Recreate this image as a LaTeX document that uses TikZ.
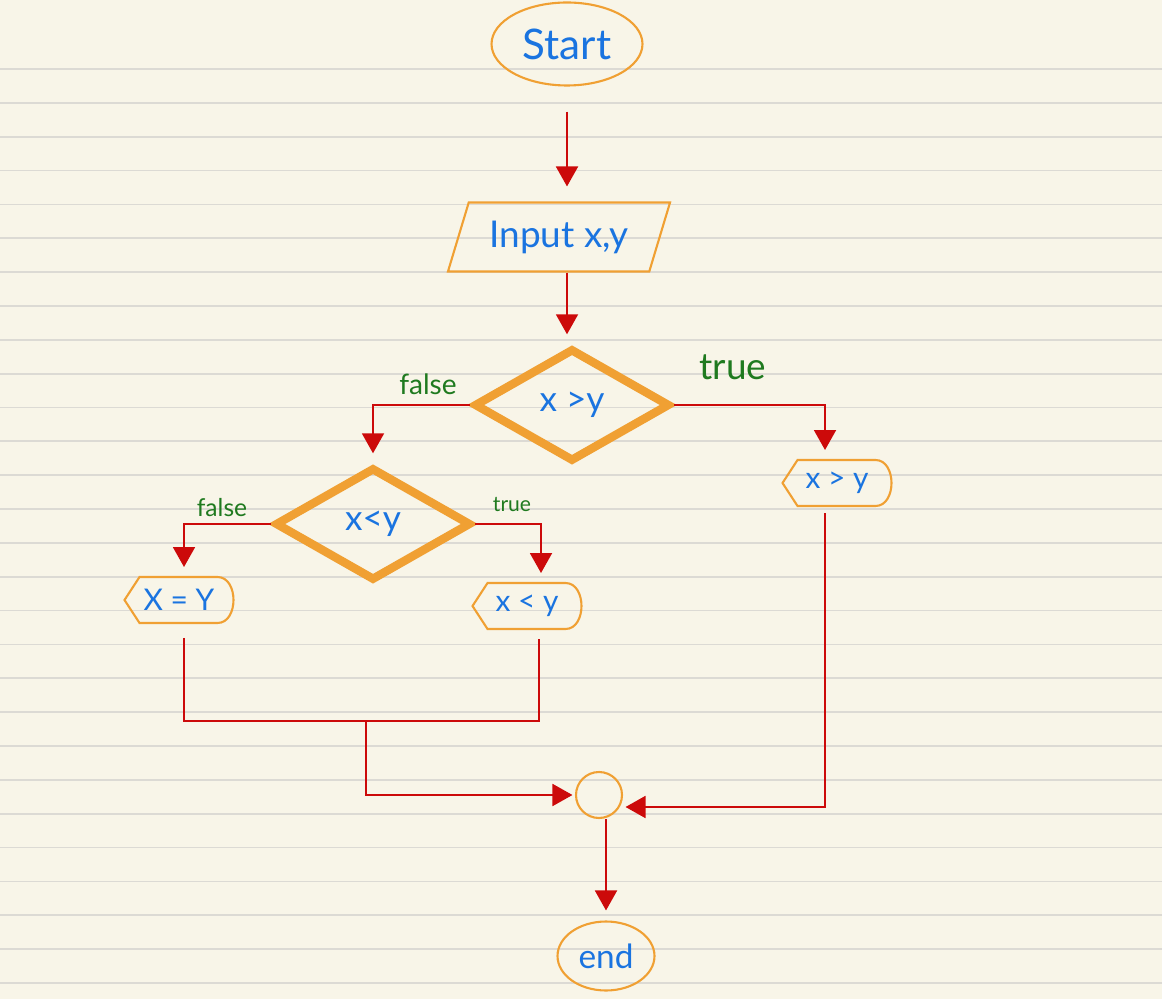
\documentclass[tikz,border=0pt]{standalone}
\usepackage{fontspec}
\setmainfont{Lato}
\usetikzlibrary{shapes.geometric,arrows.meta}

\definecolor{paper}{HTML}{F8F5E8}
\definecolor{rule}{HTML}{DCDAD4}
\definecolor{boxorange}{HTML}{F0A033}
\definecolor{inkblue}{HTML}{1A74E0}
\definecolor{inkgreen}{HTML}{1F7A1F}
\definecolor{inkred}{HTML}{CC0A0A}

\tikzset{
  boxline/.style={draw=boxorange,line width=1.2pt},
  startstop/.style={ellipse,boxline,inner sep=0pt,text=inkblue},
  io/.style={trapezium,trapezium left angle=64,trapezium right angle=116,
    trapezium stretches=true,boxline,inner sep=0pt,text=inkblue,
    minimum width=4.48cm,minimum height=1.38cm,font=\fontsize{21}{24}\selectfont},
  decision/.style={diamond,draw=boxorange,line width=4.8pt,inner sep=0pt,
    minimum width=3.92cm,minimum height=2.26cm,text=inkblue,
    font=\fontsize{20}{24}\selectfont},
  outbox/.style={rectangle,inner sep=0pt,outer sep=0pt,text=inkblue,
    minimum width=2.18cm,minimum height=0.92cm,font=\fontsize{17}{20}\selectfont},
  joint/.style={circle,boxline,inner sep=0pt,minimum size=0.92cm},
  lbl/.style={text=inkgreen,inner sep=0pt},
  flow/.style={draw=inkred,line width=1.1pt,-{Triangle[length=0.4cm,width=0.44cm]},
    shorten >=0.2cm},
  flowline/.style={draw=inkred,line width=1.1pt}
}

% outline of a display box: pointed on the left, round on the right
\newcommand{\dispshape}[1]{%
  \draw[boxline] (#1.west) -- ([xshift=0.3cm]#1.north west)
    -- ([xshift=-0.32cm]#1.north east) to[out=0,in=90] (#1.east)
    to[out=-90,in=0] ([xshift=-0.32cm]#1.south east)
    -- ([xshift=0.3cm]#1.south west) -- cycle;}

\begin{document}
\begin{tikzpicture}[x=0.02cm,y=-0.02cm]
\fill[paper] (0,0) rectangle (1162,999);
\useasboundingbox (0,0) rectangle (1162,999);
\foreach \k in {0,...,27}
  \draw[rule,line width=1pt] (0,{69+33.85*\k}) -- (1162,{69+33.85*\k});

% nodes
\node[startstop,minimum width=3.02cm,minimum height=1.66cm,
  font=\fontsize{24}{28}\selectfont] (start) at (567,44) {Start};
\node[io] (input) at (559,237) {Input x,y};
\node[decision] (d1) at (572,405) {x >y};
\node[decision] (d2) at (373,524) {x<y};
\node[outbox] (xeq) at (179,600) {X = Y};
\node[outbox] (xlt) at (527,606) {x < y};
\node[outbox] (xgt) at (837,483) {x > y};
\dispshape{xeq}
\dispshape{xlt}
\dispshape{xgt}
\node[joint] (jn) at (599,795) {};
\node[startstop,minimum width=1.94cm,minimum height=1.38cm,
  font=\fontsize{19}{22}\selectfont] (end) at (606,956) {end};

% branch labels
\node[lbl,font=\fontsize{21}{24}\selectfont] (t1) at (733,367) {true};
\node[lbl,font=\fontsize{16}{19}\selectfont] (f1) at (428,384) {false};
\node[lbl,font=\fontsize{14}{17}\selectfont] (f2) at (222,508) {false};
\node[lbl,font=\fontsize{12}{14}\selectfont] (t2) at (512,505) {true};

% connectors
\coordinate (m) at (366,721);
\draw[flow,shorten <=0.5cm,shorten >=0.3cm] (start) -- (start |- input.north);
\draw[flow] (start |- input.south) -- (start |- d1.north);
\draw[flow] (d1.west) -| (d2.north);
\draw[flow] (d1.east) -| ([xshift=-0.24cm]xgt.north);
\draw[flow] (d2.west) -| ([xshift=0.1cm]xeq.north);
\draw[flow] (d2.east) -| ([xshift=0.28cm]xlt.north);
\draw[flowline,shorten <=0.3cm,shorten >=0.2cm] ([xshift=0.1cm]xeq.south) |- (m)
  -| ([xshift=0.24cm]xlt.south);
\draw[flow,shorten >=0.05cm] (m) |- (jn.west);
\draw[flow,shorten <=0.15cm,shorten >=0.05cm] ([xshift=-0.24cm]xgt.south)
  |- ([yshift=-0.24cm]jn.east);
\draw[flow] (jn.south -| end) -- (end.north);
\end{tikzpicture}
\end{document}
